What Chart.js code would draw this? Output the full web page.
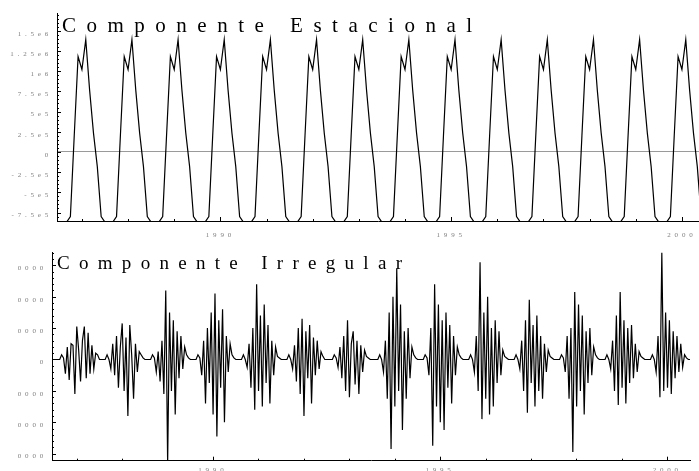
<!DOCTYPE html>
<html>
<head>
<meta charset="utf-8">
<script src="https://cdn.jsdelivr.net/npm/chart.js@4.4.1/dist/chart.umd.min.js"></script>
<style>
  html, body { margin: 0; padding: 0; background: #fff; overflow: hidden; }
  #wrap { position: relative; width: 699px; height: 471px; }
  canvas { position: absolute; left: 0; }
  #seasonalChart { top: 0; }
  #irregularChart { top: 245px; }
</style>
</head>
<body>
<div id="wrap">
  <canvas id="seasonalChart" width="699" height="245"></canvas>
  <canvas id="irregularChart" width="699" height="226"></canvas>
</div>
<script>
// Títulos dos painéis
var seasonalTitle = 'Componente Estacional';
var irregularTitle = 'Componente Irregular';

// Eixo do tempo (anos)
var xMin = 1986.46;
var xMaxSeasonal = 2000.37;
var xMaxIrregular = 2000.5;
var xTickYears = [1990, 1995, 2000];
var xTickLabels = ['1990', '1995', '2000'];

// Eixo y do componente estacional (milhares)
var seasonalTicks = [1500, 1250, 1000, 750, 500, 250, 0, -250, -500, -750];
var seasonalTickLabels = ['1.5e6', '1.25e6', '1e6', '7.5e5', '5e5', '2.5e5', '0', '-2.5e5', '-5e5', '-7.5e5'];

// Eixo y do componente irregular (milhares)
var irregularTicks = [60, 40, 20, 0, -20, -40, -60];
var irregularTickLabels = ['0000', '0000', '0000', '0', '0000', '0000', '0000'];

// Componente estacional, valores mensais (milhares), de jul/1986 a jun/2000
var seasonalStart = 1986.5;
var seasonalValues = [
  -870, -870, -870, -800, 200, 1180,
  1020, 1390, 765, 236, -182, -800, -870, -870, -870, -800, 200, 1180,
  1020, 1390, 765, 236, -182, -800, -870, -870, -870, -800, 200, 1180,
  1020, 1390, 765, 236, -182, -800, -870, -870, -870, -800, 200, 1180,
  1020, 1390, 765, 236, -182, -800, -870, -870, -870, -800, 200, 1180,
  1020, 1390, 765, 236, -182, -800, -870, -870, -870, -800, 200, 1180,
  1020, 1390, 765, 236, -182, -800, -870, -870, -870, -800, 200, 1180,
  1020, 1390, 765, 236, -182, -800, -870, -870, -870, -800, 200, 1180,
  1020, 1390, 765, 236, -182, -800, -870, -870, -870, -800, 200, 1180,
  1020, 1390, 765, 236, -182, -800, -870, -870, -870, -800, 200, 1180,
  1020, 1390, 765, 236, -182, -800, -870, -870, -870, -800, 200, 1180,
  1020, 1390, 765, 236, -182, -800, -870, -870, -870, -800, 200, 1180,
  1020, 1390, 765, 236, -182, -800, -870, -870, -870, -800, 200, 1180,
  1020, 1390, 765, 236, -182, -800, -870, -870, -870, -800, 200, 1180,
  1020, 1390, 765, 236, -182, -800
];

// Componente irregular: rajadas quinzenais (milhares), zero entre elas
var irregularStep = 1 / 24;
var irregularBurstStarts = [1986.63, 1987.63, 1988.63, 1989.63, 1990.63, 1991.63, 1992.63,
                            1993.63, 1994.63, 1995.63, 1996.63, 1997.63, 1998.63, 1999.63];
var irregularBursts = [
  [0, 3, 1, -9, 8, -13, 10, 9, -22, 21, 6, -14, 12, 21, -12, 17, -9, 9, -6, 4, 3, 0],
  [0, 3, 0, -6, 10, -10, 15, -18, 8, 23, -20, 14, -36, 22, 3, -25, 10, -8, 5, 3, 1, 0],
  [0, 3, 1, -8, 5, -14, 12, -22, 44, -66, 30, -20, 25, -35, 18, -12, 15, -6, 8, 3, 1, 0],
  [0, 3, 1, -10, 12, -28, 20, -15, 30, -35, 42, -49, 25, -18, 32, -40, 15, -8, 10, 3, 1, 0],
  [0, 3, 0, -5, 10, -18, 20, -32, 48, -20, 28, -30, 35, -15, 22, -28, 12, -10, 8, 2, 1, 0],
  [0, 3, 0, -6, 9, -14, 20, -22, 26, -36, 18, -12, 22, -28, 14, -10, 12, -6, 5, 2, 0, 0],
  [0, 3, 1, -5, 8, -12, 15, -20, 25, -24, 10, 18, -16, 12, -22, 9, -8, 6, 2, 1, 0, 0],
  [0, 3, 0, -8, 12, -25, 30, -57, 40, -30, 58, -20, 35, -45, 18, -25, 20, -12, 8, 3, 1, 0],
  [0, 3, 1, -10, 20, -55, 48, -30, 35, -40, 25, -45, 30, -18, 22, -28, 15, -10, 8, 3, 1, 0],
  [0, 3, 0, -8, 15, -20, 62, -38, 30, -25, 40, -35, 20, -30, 25, -15, 18, -10, 6, 2, 1, 0],
  [0, 3, 0, -6, 12, -20, 25, -34, 38, -15, 22, -30, 28, -20, 15, -25, 10, -8, 6, 2, 1, 0],
  [0, 3, 1, -8, 15, -25, 20, -59, 43, -30, 35, -20, 28, -35, 18, -15, 20, -10, 8, 3, 1, 0],
  [0, 3, 0, -6, 12, -20, 28, -29, 43, -18, 25, -28, 20, -15, 22, -12, 10, -8, 5, 2, 1, 0],
  [0, 3, 0, -8, 15, -24, 68, -20, 30, -18, 25, -22, 18, -12, 15, -8, 10, -5, 3, 1, 0, 0]
];

// Montar os pontos {x, y} a partir dos dados
var seasonalPoints = seasonalValues.map(function(v, i) {
  return { x: seasonalStart + i / 12, y: v };
});

var irregularPoints = [{ x: xMin, y: 0 }];
irregularBurstStarts.forEach(function(start, b) {
  irregularBursts[b].forEach(function(v, i) {
    irregularPoints.push({ x: start + i * irregularStep, y: v });
  });
});
irregularPoints.push({ x: xMaxIrregular, y: 0 });

// Espaçamento entre letras dos rótulos (estilo do original)
var spacedTicks = {
  id: 'spacedTicks',
  beforeLayout: function(chart) { chart.ctx.letterSpacing = '3.8px'; },
  beforeDraw: function(chart) { chart.ctx.letterSpacing = '3.8px'; }
};

// Marcas dos eixos voltadas para dentro (maiores e menores)
var tickMarks = {
  id: 'tickMarks',
  afterDraw: function(chart, args, opts) {
    var ctx = chart.ctx, area = chart.chartArea;
    var xs = chart.scales.x, ys = chart.scales.y;
    ctx.save();
    ctx.strokeStyle = '#000';
    ctx.lineWidth = 1;
    ctx.beginPath();
    var minor = opts.yStep / 5;
    var start = Math.ceil(ys.min / minor) * minor;
    for (var v = start; v <= ys.max; v += minor) {
      var py = Math.round(ys.getPixelForValue(v)) + 0.5;
      var isMajor = Math.abs(v / opts.yStep - Math.round(v / opts.yStep)) < 1e-6;
      ctx.moveTo(area.left, py);
      ctx.lineTo(area.left + (isMajor ? 4 : 2), py);
    }
    for (var yr = Math.ceil(xs.min); yr <= xs.max; yr++) {
      var px = Math.round(xs.getPixelForValue(yr)) + 0.5;
      var big = xTickYears.indexOf(yr) >= 0;
      ctx.moveTo(px, area.bottom);
      ctx.lineTo(px, area.bottom - (big ? 4 : 2));
    }
    ctx.stroke();
    ctx.restore();
  }
};

// Título dentro da área do gráfico
var panelTitle = {
  id: 'panelTitle',
  afterDraw: function(chart, args, opts) {
    var ctx = chart.ctx;
    ctx.save();
    ctx.font = opts.size + 'px "Liberation Serif", serif';
    ctx.letterSpacing = opts.spacing + 'px';
    ctx.fillStyle = '#000';
    ctx.textAlign = 'left';
    ctx.textBaseline = 'alphabetic';
    ctx.fillText(opts.text, chart.chartArea.left + opts.dx, chart.chartArea.top + opts.dy);
    ctx.restore();
  }
};

var tickFont = { family: '"Liberation Serif", serif', size: 7 };

function buildChart(canvasId, points, cfg) {
  return new Chart(document.getElementById(canvasId).getContext('2d'), {
    type: 'line',
    data: {
      datasets: [{
        data: points,
        borderColor: '#000',
        borderWidth: 1.2,
        pointRadius: 0,
        tension: 0,
        fill: false
      }]
    },
    options: {
      responsive: false,
      animation: false,
      devicePixelRatio: 1,
      layout: { padding: cfg.padding },
      plugins: {
        legend: { display: false },
        tooltip: { enabled: false },
        panelTitle: cfg.title,
        tickMarks: { yStep: cfg.yStep }
      },
      scales: {
        x: {
          type: 'linear',
          min: xMin,
          max: cfg.xMax,
          afterBuildTicks: function(scale) {
            scale.ticks = xTickYears.map(function(v) { return { value: v }; });
          },
          afterFit: function(scale) {
            // sem reserva de espaço para o último rótulo
            scale.height = cfg.xHeight;
            scale.paddingLeft = 0;
            scale.paddingRight = 0;
          },
          grid: { display: false, drawTicks: false },
          border: { display: true, color: '#000', width: 1 },
          ticks: {
            autoSkip: false,
            maxRotation: 0,
            padding: cfg.xPad,
            color: '#808080',
            font: tickFont,
            callback: function(value) {
              return xTickLabels[xTickYears.indexOf(value)];
            }
          }
        },
        y: {
          min: cfg.yMin,
          max: cfg.yMax,
          afterBuildTicks: function(scale) {
            scale.ticks = cfg.yTicks.map(function(v) { return { value: v }; });
          },
          afterFit: function(scale) {
            scale.width = cfg.yWidth;
            scale.paddingTop = 0;
            scale.paddingBottom = 0;
          },
          grid: {
            display: cfg.zeroGrid,
            drawTicks: false,
            color: function(ctx) {
              return ctx.tick && ctx.tick.value === 0 ? '#9a9a9a' : 'rgba(0,0,0,0)';
            }
          },
          border: { display: true, color: '#000', width: 1 },
          ticks: {
            autoSkip: false,
            padding: 5,
            labelOffset: 3,
            color: '#808080',
            font: tickFont,
            callback: function(value) {
              return cfg.yLabels[cfg.yTicks.indexOf(value)];
            }
          }
        }
      }
    },
    plugins: [spacedTicks, tickMarks, panelTitle]
  });
}

document.addEventListener('DOMContentLoaded', function() {
  // Painel superior: componente estacional
  buildChart('seasonalChart', seasonalPoints, {
    padding: { top: 13, left: 0, right: 0, bottom: 0 },
    xMax: xMaxSeasonal,
    xHeight: 24,
    xPad: 10,
    yMin: -855,
    yMax: 1720,
    yStep: 250,
    yTicks: seasonalTicks,
    yLabels: seasonalTickLabels,
    yWidth: 57,
    zeroGrid: true,
    title: { text: seasonalTitle, size: 21, spacing: 10.5, dx: 5, dy: 19 }
  });

  // Painel inferior: componente irregular
  buildChart('irregularChart', irregularPoints, {
    padding: { top: 7, left: 0, right: 9, bottom: 0 },
    xMax: xMaxIrregular,
    xHeight: 10.3,
    xPad: 5,
    yMin: -64.5,
    yMax: 68.5,
    yStep: 20,
    yTicks: irregularTicks,
    yLabels: irregularTickLabels,
    yWidth: 52,
    zeroGrid: false,
    title: { text: irregularTitle, size: 19, spacing: 9.3, dx: 5, dy: 17 }
  });
});
</script>
</body>
</html>
